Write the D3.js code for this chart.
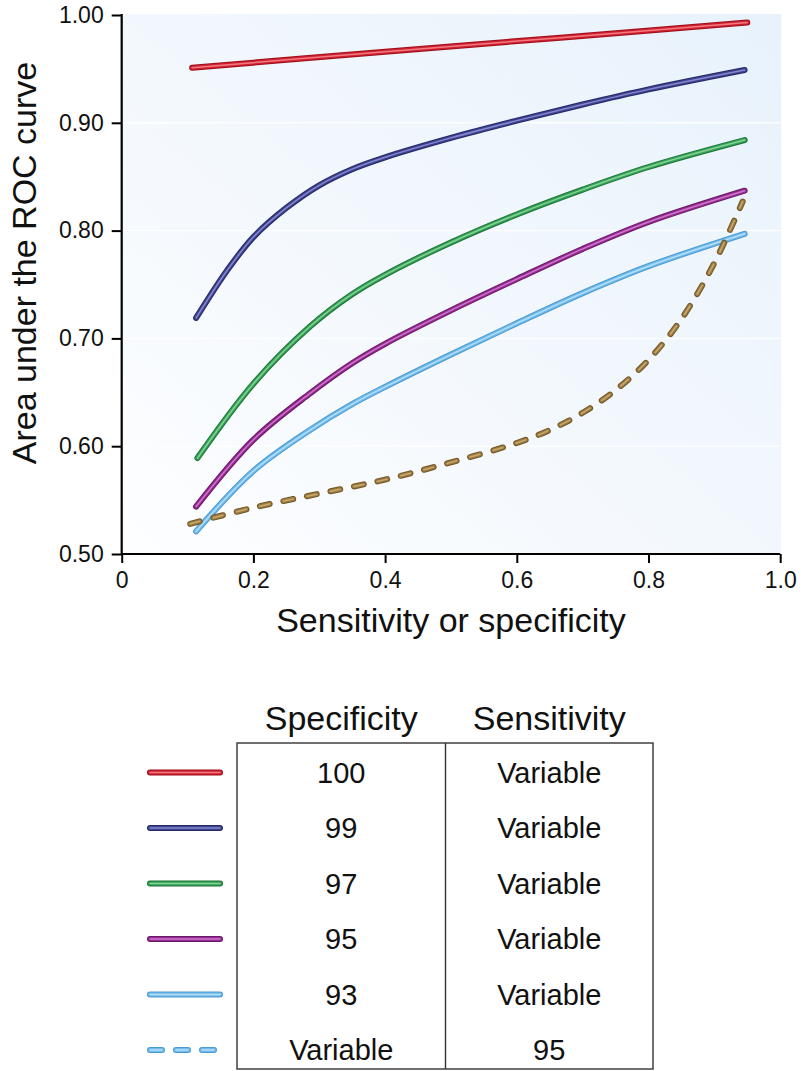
<!DOCTYPE html>
<html>
<head>
<meta charset="utf-8">
<script src="https://cdn.jsdelivr.net/npm/d3@7"></script>
<style>
  body { margin: 0; background: #fff; }
  svg { display: block; font-family: "Liberation Sans", Arial, Helvetica, sans-serif; }
</style>
</head>
<body>
<svg id="chart" width="803" height="1071"></svg>
<script>
// ---------- data ----------
const xTicks = [0, 0.2, 0.4, 0.6, 0.8, 1.0];
const xTickLabels = ["0", "0.2", "0.4", "0.6", "0.8", "1.0"];
const yTicks = [0.5, 0.6, 0.7, 0.8, 0.9, 1.0];
const yTickLabels = ["0.50", "0.60", "0.70", "0.80", "0.90", "1.00"];

const redX = [0.107, 0.40, 0.666, 0.950];
const redY = [0.951, 0.966, 0.979, 0.993];

const blueX = [0.113, 0.160, 0.200, 0.250, 0.300, 0.350, 0.400, 0.500, 0.600, 0.700, 0.800, 0.946];
const blueY = [0.719, 0.763, 0.794, 0.821, 0.842, 0.857, 0.868, 0.886, 0.902, 0.917, 0.931, 0.949];

const greenX = [0.115, 0.200, 0.286, 0.350, 0.400, 0.500, 0.600, 0.700, 0.800, 0.946];
const greenY = [0.589, 0.658, 0.711, 0.741, 0.759, 0.789, 0.815, 0.838, 0.859, 0.884];

const purpleX = [0.113, 0.200, 0.286, 0.350, 0.400, 0.500, 0.600, 0.700, 0.800, 0.946];
const purpleY = [0.544, 0.606, 0.649, 0.677, 0.695, 0.726, 0.755, 0.783, 0.808, 0.837];

const lightX = [0.113, 0.200, 0.286, 0.350, 0.400, 0.500, 0.600, 0.700, 0.800, 0.946];
const lightY = [0.521, 0.577, 0.615, 0.639, 0.655, 0.685, 0.714, 0.742, 0.767, 0.797];

const tanX = [0.104, 0.200, 0.300, 0.400, 0.500, 0.600, 0.650, 0.700, 0.750, 0.800, 0.850, 0.900, 0.943];
const tanY = [0.528, 0.543, 0.556, 0.569, 0.585, 0.603, 0.615, 0.631, 0.652, 0.680, 0.718, 0.770, 0.827];

const legendSpecificity = ["100", "99", "97", "95", "93", "Variable"];
const legendSensitivity = ["Variable", "Variable", "Variable", "Variable", "Variable", "95"];

// ---------- styles ----------
const styles = {
  red:    { dark: "#9e0f1c", main: "#d3202f", light: "#f28c92" },
  blue:   { dark: "#262a68", main: "#3d418f", light: "#9296d6" },
  green:  { dark: "#1c7437", main: "#34a153", light: "#94d8a6" },
  purple: { dark: "#6a1768", main: "#952b92", light: "#d885d3" },
  light:  { dark: "#4a9ad2", main: "#70bbea", light: "#c0e4fb" },
  tan:    { dark: "#735728", main: "#9b7b40", light: "#cfb179" }
};

const series = [
  { key: "red",    x: redX,    y: redY,    dash: null },
  { key: "blue",   x: blueX,   y: blueY,   dash: null },
  { key: "green",  x: greenX,  y: greenY,  dash: null },
  { key: "purple", x: purpleX, y: purpleY, dash: null },
  { key: "light",  x: lightX,  y: lightY,  dash: null },
  { key: "tan",    x: tanX,    y: tanY,    dash: "10,14" }
];

// ---------- layout ----------
const svg = d3.select("#chart");
const x = d3.scaleLinear().domain([0, 1]).range([121.7, 780.2]);
const y = d3.scaleLinear().domain([0.5, 1]).range([554, 15]);

// background gradient
const defs = svg.append("defs");
const grad = defs.append("linearGradient").attr("id", "bg")
  .attr("x1", "0%").attr("y1", "100%").attr("x2", "100%").attr("y2", "0%");
grad.append("stop").attr("offset", "0%").attr("stop-color", "#fdfeff");
grad.append("stop").attr("offset", "45%").attr("stop-color", "#f3f8fd");
grad.append("stop").attr("offset", "100%").attr("stop-color", "#e8f2fc");

svg.append("rect")
  .attr("x", x(0)).attr("y", 14)
  .attr("width", x(1) - x(0) + 1).attr("height", y(0.5) - 14)
  .attr("fill", "url(#bg)");

// faint white gridlines
svg.append("g").selectAll("line").data(yTicks.filter(v => v > 0.5 && v < 1))
  .join("line")
  .attr("x1", x(0)).attr("x2", x(1))
  .attr("y1", d => y(d)).attr("y2", d => y(d))
  .attr("stroke", "#ffffff").attr("stroke-width", 1.5).attr("opacity", 0.9);

// ---------- lines ----------
const line = d3.line().x(d => x(d[0])).y(d => y(d[1])).curve(d3.curveCatmullRom.alpha(0.5));

function tube(g, d, st, dash) {
  const layers = [
    { c: st.dark, w: 6 },
    { c: st.main, w: 4 },
    { c: st.light, w: 1.5, o: 0.85 }
  ];
  layers.forEach(l => {
    g.append("path")
      .attr("d", d)
      .attr("fill", "none")
      .attr("stroke", l.c)
      .attr("stroke-width", l.w)
      .attr("stroke-linecap", "round")
      .attr("stroke-linejoin", "round")
      .attr("opacity", l.o || 1)
      .attr("stroke-dasharray", dash);
  });
}

const linesG = svg.append("g");
series.forEach(s => {
  const pts = s.x.map((v, i) => [v, s.y[i]]);
  tube(linesG.append("g"), line(pts), styles[s.key], s.dash);
});

// ---------- axes ----------
const yAxis = d3.axisLeft(y).tickValues(yTicks)
  .tickFormat((d, i) => yTickLabels[i]).tickSize(10).tickSizeOuter(0).tickPadding(8);
const xAxis = d3.axisBottom(x).tickValues(xTicks)
  .tickFormat((d, i) => xTickLabels[i]).tickSize(9).tickSizeOuter(0);

const gy = svg.append("g").attr("transform", `translate(${x(0)},0)`).call(yAxis);
const gx = svg.append("g").attr("transform", `translate(0,${y(0.5)})`).call(xAxis);

[gx, gy].forEach(g => {
  g.select(".domain").attr("stroke", "#000").attr("stroke-width", 2.2);
  g.selectAll(".tick line").attr("stroke", "#000").attr("stroke-width", 2);
  g.selectAll(".tick text").attr("fill", "#111")
    .style("font-size", "23px")
    .style("font-family", "'Liberation Sans', Arial, Helvetica, sans-serif");
});
gx.selectAll(".tick text").attr("y", 34).attr("dy", 0);
gy.select(".domain").attr("d", `M0,${y(0.5)}V14`);
gx.select(".domain").attr("d", `M${x(0)},0H${x(1)}`);

// axis titles
svg.append("text")
  .attr("x", (x(0) + x(1)) / 2).attr("y", 632)
  .attr("text-anchor", "middle")
  .style("font-size", "34px").attr("fill", "#111")
  .text("Sensitivity or specificity");

svg.append("text")
  .attr("transform", "translate(36,263) rotate(-90)")
  .attr("text-anchor", "middle")
  .style("font-size", "34px").attr("fill", "#111")
  .text("Area under the ROC curve");

// ---------- legend table ----------
const tL = 237, tM = 445.5, tR = 653, tT = 743, tB = 1069;
const rowY = d3.range(6).map(i => 772.5 + i * 55.5);
const colSpec = (tL + tM) / 2, colSens = (tM + tR) / 2;

const leg = svg.append("g");
leg.append("text").attr("x", colSpec).attr("y", 730).attr("text-anchor", "middle")
  .style("font-size", "34px").attr("fill", "#111").text("Specificity");
leg.append("text").attr("x", colSens).attr("y", 730).attr("text-anchor", "middle")
  .style("font-size", "34px").attr("fill", "#111").text("Sensitivity");

leg.append("rect").attr("x", tL).attr("y", tT).attr("width", tR - tL).attr("height", tB - tT)
  .attr("fill", "none").attr("stroke", "#333").attr("stroke-width", 1.4);
leg.append("line").attr("x1", tM).attr("x2", tM).attr("y1", tT).attr("y2", tB)
  .attr("stroke", "#333").attr("stroke-width", 1.4);

leg.selectAll("text.spec").data(legendSpecificity).join("text")
  .attr("class", "spec")
  .attr("x", colSpec).attr("y", (d, i) => rowY[i] + 10)
  .attr("text-anchor", "middle").style("font-size", "29px").attr("fill", "#111")
  .text(d => d);
leg.selectAll("text.sens").data(legendSensitivity).join("text")
  .attr("class", "sens")
  .attr("x", colSens).attr("y", (d, i) => rowY[i] + 10)
  .attr("text-anchor", "middle").style("font-size", "29px").attr("fill", "#111")
  .text(d => d);

const legendKeys = ["red", "blue", "green", "purple", "light", "light"];
legendKeys.forEach((k, i) => {
  const yy = rowY[i];
  const dashed = i === 5;
  const x1 = 150, x2 = dashed ? 214 : 220;
  tube(leg.append("g"), `M${x1},${yy}H${x2}`, styles[k], dashed ? "12,14" : null);
});
</script>
</body>
</html>
